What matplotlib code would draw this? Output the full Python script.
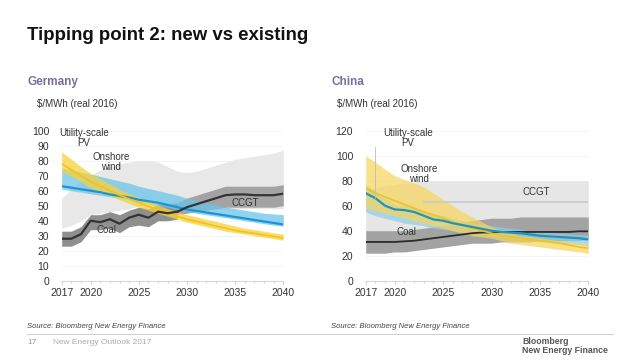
import numpy as np
import matplotlib.pyplot as plt

plt.rcParams['font.family'] = ['Liberation Sans', 'DejaVu Sans']

years = np.arange(2017, 2041)

# Germany ($/MWh, real 2016)
de_pv_mid = [78, 74, 70, 66, 63, 60, 57, 54.5, 52, 49.5, 47.5, 45, 43, 41,
             39.5, 38, 36.5, 35, 33.5, 32.5, 31.5, 30.5, 29.5, 28.5]
de_pv_lo = [73, 69.5, 66, 62, 59, 56.5, 54, 51.5, 49, 47, 45, 43, 41, 39,
            37.5, 36, 34.5, 33, 32, 31, 30, 29, 28, 27]
de_pv_hi = [86, 81, 76, 71.5, 68, 64.5, 61, 58, 55.5, 53, 50.5, 48, 46, 44,
            42.5, 41, 39.5, 38, 36.5, 35, 34, 33, 32, 31]
de_wind_mid = [63, 62, 61, 60, 59, 57.5, 56.5, 55.5, 54, 53, 52, 50.5, 49, 47.5,
               46.5, 45.5, 44.5, 43.5, 42.5, 41.5, 40.5, 39.5, 38.5, 37.5]
de_wind_lo = [61, 60, 59, 58, 57, 56, 55, 54, 52.5, 51.5, 50, 49, 47.5, 46,
              45, 44, 43, 42, 41, 40, 39, 38, 37, 36.5]
de_wind_hi = [75, 74, 72.5, 71, 69.5, 68, 66.5, 65, 63, 61.5, 60, 58.5, 57, 55,
              53.5, 52, 50.5, 49, 48, 47, 46, 45, 44.5, 44]
de_ccgt_lo = [35, 37, 40, 44, 45, 46, 47, 48, 50, 50, 50, 49, 48, 48,
              48, 48, 48, 48, 48, 48, 48, 48, 48, 48]
de_ccgt_hi = [55, 61, 66, 70, 74, 76, 78, 79, 80, 80, 79, 76, 73, 72,
              73, 75, 77, 79, 81, 82, 83, 84, 85, 87]
de_coal_years = np.arange(2017, 2030)
de_coal_mid = [28, 28, 31, 40, 39, 41, 38, 42, 44, 42, 46, 45, 46]
de_coal_lo = [23, 23, 26, 34, 34, 35, 32, 36, 37, 36, 40, 40, 41]
de_coal_hi = [33, 33, 36, 44, 44, 46, 44, 47, 49, 48, 51, 51, 52]
de_gas_years = np.arange(2029, 2041)
de_gas_mid = [46, 49, 51, 53, 55, 57, 57.5, 57.5, 57, 57, 57, 58]
de_gas_lo = [44, 45, 46, 47, 48, 49, 49, 49, 49, 49, 49, 50]
de_gas_hi = [52, 55, 57, 59, 61, 63, 63, 63, 63, 63, 63, 64]

# China ($/MWh, real 2016)
cn_pv_mid = [74, 70, 67, 64, 61, 58, 55, 52.5, 50, 47, 44.5, 42, 40, 38,
             36.5, 35, 34, 33, 32, 31, 30, 28.5, 27, 26]
cn_pv_lo = [58, 56, 54, 52, 50, 48, 46, 44, 42, 40, 38, 36, 35, 34,
            32, 30, 29, 28, 27, 26, 25, 24, 23, 22]
cn_pv_hi = [100, 95, 89, 84, 81, 78, 75, 70, 65, 60, 55, 51, 47, 43,
            40, 38, 36, 35, 34, 33, 32, 31, 30, 29]
cn_wind_mid = [70, 66, 60, 57, 56.5, 55, 52, 49, 48, 46, 44.5, 43, 41.5, 40,
               39, 38.5, 38, 37, 36, 35.5, 35, 34.5, 34, 33]
cn_wind_lo = [55, 52, 50, 48, 46, 45, 44, 42, 41, 40, 39, 38, 37, 36,
              35, 34, 33, 32, 31, 30.5, 30, 29.5, 29, 28]
cn_wind_hi = [77, 72, 66, 61, 60, 58, 56, 54, 52, 50, 48, 46, 45, 44,
              43, 42, 41, 40, 39, 38.5, 38, 37.5, 37, 36.5]
cn_coal_mid = [31, 31, 31, 31, 31.5, 32, 33, 34, 35, 36, 37, 38, 38.5, 38.5,
               39, 39, 39, 39, 39, 39, 39, 39, 39.5, 39.5]
cn_coal_lo = [22, 22, 22, 23, 23, 24, 25, 26, 27, 28, 29, 30, 30, 30,
              31, 31, 31, 31, 32, 32, 32, 32, 32, 33]
cn_coal_hi = [40, 40, 40, 40, 40, 41, 42, 43, 44, 46, 47, 48, 49, 50,
              50, 50, 51, 51, 51, 51, 51, 51, 51, 51]
cn_ccgt_lo = [40] * 24
cn_ccgt_hi = [72, 74, 76, 77, 78, 79, 80, 80, 80, 80, 80, 80, 80, 80,
              80, 80, 80, 80, 80, 80, 80, 80, 80, 80]
cn_gas_years = np.arange(2023, 2041)
cn_gas_mid = [63] * 18

xticks = [2017, 2020, 2025, 2030, 2035, 2040]

W, H = 640, 360
fig = plt.figure(figsize=(6.4, 3.6), dpi=100)


def fx(px):
    return px / W


def fy(py):
    return 1 - py / H


def style_axes(ax, ymax, ystep):
    ax.set_xlim(2017, 2040)
    ax.set_ylim(0, ymax)
    ax.set_yticks(np.arange(0, ymax + 1, ystep))
    ax.set_xticks(xticks)
    ax.set_xticks(np.arange(2017, 2041), minor=True)
    for s in ['top', 'right', 'left']:
        ax.spines[s].set_visible(False)
    ax.spines['bottom'].set_color('#cfcfcf')
    ax.spines['bottom'].set_linewidth(0.6)
    ax.tick_params(axis='y', length=0, labelsize=7.5, colors='#333333', pad=9)
    ax.tick_params(axis='x', which='major', length=2, color='#cfcfcf',
                   labelsize=7.5, labelcolor='#333333', pad=3)
    ax.tick_params(axis='x', which='minor', length=1.5, color='#cfcfcf')
    ax.grid(axis='y', color='#f2f2f2', lw=0.6)
    ax.set_axisbelow(True)
    ax.patch.set_alpha(0)


# Germany panel
ax1 = fig.add_axes([fx(61.7), fy(280.7), fx(283.3 - 61.7), (280.7 - 130.7) / H])
ax1.fill_between(years, de_ccgt_lo, de_ccgt_hi, color='#e8e8e8', lw=0)
ax1.fill_between(de_coal_years, de_coal_lo, de_coal_hi, color='#8f8f8f', lw=0)
ax1.fill_between(de_gas_years, de_gas_lo, de_gas_hi, color='#a3a3a3', lw=0)
ax1.fill_between(years, de_wind_lo, de_wind_hi, color='#6cc3ea', alpha=0.75, lw=0)
ax1.fill_between(years, de_pv_lo, de_pv_hi, color='#f6d23c', alpha=0.75, lw=0)
ax1.plot(years, de_wind_mid, color='#1b95d3', lw=1.6)
ax1.plot(years, de_pv_mid, color='#f2c21b', lw=1.2)
ax1.plot(de_coal_years, de_coal_mid, color='#333333', lw=1.6)
ax1.plot(de_gas_years, de_gas_mid, color='#333333', lw=1.6)
style_axes(ax1, 100, 10)

# China panel
ax2 = fig.add_axes([fx(365.7), fy(280.7), fx(588.3 - 365.7), (280.7 - 130.7) / H])
ax2.fill_between(years, cn_ccgt_lo, cn_ccgt_hi, color='#e6e6e6', lw=0)
ax2.fill_between(years, cn_coal_lo, cn_coal_hi, color='#a3a3a3', lw=0)
ax2.plot(cn_gas_years, cn_gas_mid, color='#c9c9c9', lw=1.2)
ax2.fill_between(years, cn_wind_lo, cn_wind_hi, color='#8ecde8', alpha=0.7, lw=0)
ax2.fill_between(years, cn_pv_lo, cn_pv_hi, color='#f7d55a', alpha=0.7, lw=0)
ax2.plot(years, cn_coal_mid, color='#2b2b2b', lw=1.3)
ax2.plot(years, cn_pv_mid, color='#eec31f', lw=1.2)
ax2.plot(years, cn_wind_mid, color='#1f93b8', lw=1.6)
style_axes(ax2, 120, 20)

# leader line for China PV label
ax2.plot([2018.0, 2018.0], [66, 107], color='#bdbdbd', lw=0.6)

lab = dict(fontsize=7, color='#333333', ha='center', va='center', linespacing=1.0)
fig.text(fx(84), fy(138), 'Utility-scale\nPV', **lab)
fig.text(fx(111), fy(162), 'Onshore\nwind', **lab)
fig.text(fx(245), fy(203), 'CCGT', **lab)
fig.text(fx(106), fy(230), 'Coal', **lab)
fig.text(fx(408), fy(138), 'Utility-scale\nPV', **lab)
fig.text(fx(419), fy(174), 'Onshore\nwind', **lab)
fig.text(fx(536), fy(192), 'CCGT', **lab)
fig.text(fx(406), fy(232), 'Coal', **lab)

# slide text
fig.text(fx(27), fy(39.5), 'Tipping point 2: new vs existing', fontsize=13.4,
         fontweight='bold', color='#111111', va='baseline')
fig.text(fx(27), fy(82), 'Germany', fontsize=8.5, fontweight='bold',
         color='#7b6f9c', va='center')
fig.text(fx(331), fy(82), 'China', fontsize=8.5, fontweight='bold',
         color='#7b6f9c', va='center')
fig.text(fx(37), fy(104), '$/MWh (real 2016)', fontsize=7, color='#333333', va='center')
fig.text(fx(337), fy(104), '$/MWh (real 2016)', fontsize=7, color='#333333', va='center')
fig.text(fx(27), fy(326), 'Source: Bloomberg New Energy Finance', fontsize=5.5,
         style='italic', color='#444444', va='center')
fig.text(fx(331), fy(326), 'Source: Bloomberg New Energy Finance', fontsize=5.5,
         style='italic', color='#444444', va='center')
fig.add_artist(plt.Line2D([fx(27), fx(613)], [fy(334), fy(334)],
                          color='#c8c8c8', lw=0.6))
fig.text(fx(27), fy(343), '17', fontsize=6, color='#999999', va='center')
fig.text(fx(53), fy(343), 'New Energy Outlook 2017', fontsize=6, color='#aaaaaa',
         va='center')
fig.text(fx(522), fy(342), 'Bloomberg', fontsize=6.3, fontweight='bold',
         color='#555555', va='center')
fig.text(fx(522), fy(350.5), 'New Energy Finance', fontsize=6.3, fontweight='bold',
         color='#555555', va='center')

fig.savefig('out.png', dpi=100)
